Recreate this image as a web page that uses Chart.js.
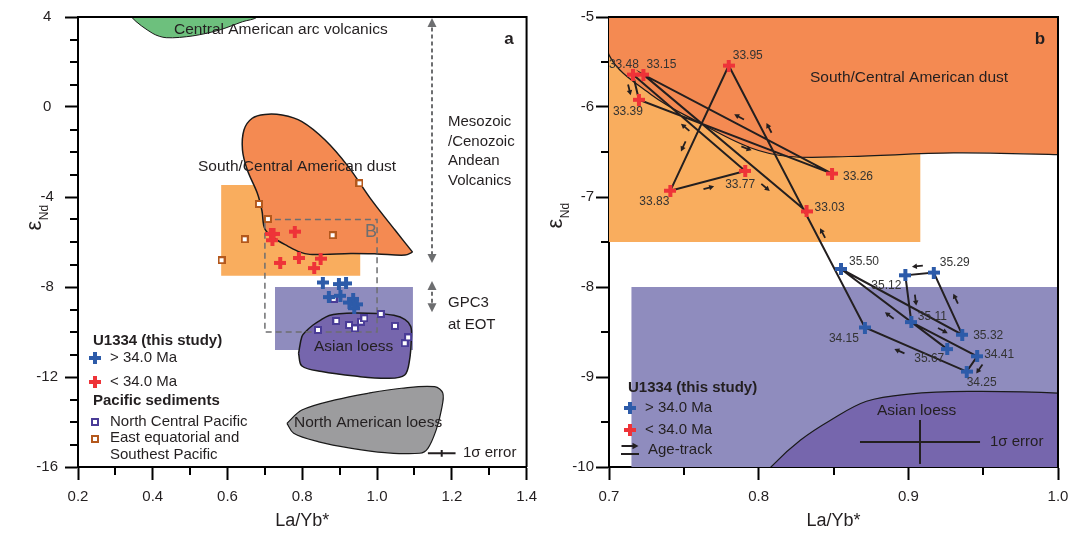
<!DOCTYPE html>
<html><head><meta charset="utf-8">
<script src="https://cdn.jsdelivr.net/npm/chart.js@4.4.1/dist/chart.umd.min.js"></script>
<style>
html,body{margin:0;padding:0;background:#fff;}
#wrap{position:relative;width:1083px;height:533px;overflow:hidden;background:#fff;}
canvas{position:absolute;top:0;}
#ca{left:0;} #cb{left:545px;}
</style></head><body>
<div id="wrap"><canvas id="ca" width="545" height="533" style="width:545px;height:533px"></canvas><canvas id="cb" width="538" height="533" style="width:538px;height:533px"></canvas></div>
<script>
const FONT = '"Liberation Sans", Arial, Helvetica, sans-serif';
const TXT = '#231f20';

// ---- U1334 (this study) ----
const blueAges  = ['35.67','35.50','35.32','35.29','35.12','35.11','34.41','34.25','34.15'];
const blueLaYb  = [0.926, 0.855, 0.936, 0.917, 0.898, 0.902, 0.946, 0.939, 0.871];
const blueEpsNd = [-8.69, -7.80, -8.53, -7.84, -7.87, -8.39, -8.77, -8.94, -8.45];
const redAges   = ['33.95','33.83','33.77','33.48','33.39','33.26','33.15','33.03'];
const redLaYb   = [0.780, 0.741, 0.791, 0.716, 0.720, 0.849, 0.723, 0.832];
const redEpsNd  = [-5.54, -6.93, -6.71, -5.64, -5.92, -6.74, -5.64, -7.16];

// ---- Pacific sediments ----
const ncpLaYb  = [0.884, 0.891, 0.842, 0.925, 0.941, 0.957, 0.966, 1.010, 1.048, 1.074, 1.083];
const ncpEpsNd = [-8.53, -9.51, -9.91, -9.69, -9.84, -9.54, -9.39, -9.20, -9.73, -10.50, -10.24];
const eesLaYb  = [0.953, 0.684, 0.708, 0.646, 0.584, 0.881];
const eesEpsNd = [-3.39, -4.31, -4.98, -5.88, -6.81, -5.70];

// ---- source fields ----
const dustX = [1.095,1.075,1.000,0.930,0.860,0.820,0.794,0.761,0.728,0.700,0.692,0.680,0.653,0.640,0.644,0.666,0.700,0.746,0.799,0.861,0.923,0.985,1.048,1.095];
const dustY = [-6.45,-6.58,-6.53,-6.51,-6.55,-6.55,-6.45,-6.18,-5.86,-5.42,-4.60,-3.84,-2.80,-1.91,-1.02,-0.50,-0.33,-0.36,-0.65,-1.47,-2.65,-4.13,-5.47,-6.45];
const loessX = [0.790,0.799,0.810,0.828,0.848,0.872,0.900,0.940,1.000,1.045,1.075,1.090,1.092,1.087,1.074,1.030,0.941,0.852,0.799,0.790];
const loessY = [-10.95,-10.20,-9.97,-9.70,-9.48,-9.27,-9.19,-9.16,-9.18,-9.26,-9.45,-9.75,-10.21,-11.24,-11.91,-12.06,-11.96,-11.76,-11.51,-10.95];
const arcX = [0.330,0.343,0.400,0.436,0.507,0.578,0.640,0.680,0.700,0.330];
const arcY = [4.60,4.00,3.27,3.08,3.16,3.42,3.79,4.00,4.60,4.60];
const naLoessX = [0.759,0.799,0.888,0.977,1.065,1.154,1.176,1.172,1.158,1.136,1.114,1.021,0.932,0.844,0.777,0.759];
const naLoessY = [-14.06,-13.47,-13.02,-12.72,-12.50,-12.43,-12.72,-13.47,-14.36,-15.17,-15.39,-15.36,-15.17,-14.88,-14.50,-14.06];
// rectangles [min,max]
const gpcRectA_x = [0.583, 0.955], gpcRectA_y = [-3.47, -7.5];
const gpcRectB_x = [0.690, 0.908], gpcRectB_y = [-3.47, -7.5];
const asiaRectA_x = [0.727, 1.096], asiaRectA_y = [-8.0, -10.8];
const asiaRectB_x = [0.715, 1.096], asiaRectB_y = [-8.0, -10.8];
const boxB_x = [0.70, 1.00], boxB_y = [-5.0, -10.0];
// annotation arrows (panel a)
const andeanX = 1.147, andeanY = [3.85, -6.75];
const gpc3X = 1.147, gpc3Y = [-7.9, -8.95];
// 1 sigma error
const errA = {x:1.173, y:-15.39, dx:0.037, dy:0.15};
const errB = {x:0.9078, y:-9.722, dx:0.0401, dy:0.244};

// label offsets (px) for panel b
const blueLabDX = [-18, 23, 26, 21, -19, 21, 22, 15, -21];
const blueLabDY = [10, -7, 1, -10, 10, -5, -2, 11, 11];
const redLabDX  = [19, -16, -5, -9, -11, 26, 18, 23];
const redLabDY  = [-10, 11, 14, -10, 12, 3, -10, -4];
// track arrows: [segment, fraction, side offset px]
const trackArrows = [[0,0.5,-8],[2,0.52,9],[3,0.55,8],[4,0.55,-7],[5,0.43,-7],[6,0.5,-9],[7,0.63,-8],[8,0.35,6],[8,0.75,7],[9,0.67,7],[10,0.49,7],[11,0.5,-6],[12,0.54,7],[13,0.57,7],[14,0.51,7],[15,0.78,8]];

// ---- helpers ----
const pts = (xs, ys) => xs.map((x,i)=>({x:x, y:ys[i]}));
const rectPts = (xr, yr) => [{x:xr[0],y:yr[0]},{x:xr[1],y:yr[0]},{x:xr[1],y:yr[1]},{x:xr[0],y:yr[1]},{x:xr[0],y:yr[0]}];
const trackPts = blueAges.map((a,i)=>({a:parseFloat(a), x:blueLaYb[i], y:blueEpsNd[i]}))
  .concat(redAges.map((a,i)=>({a:parseFloat(a), x:redLaYb[i], y:redEpsNd[i]})))
  .sort((p,q)=>q.a-p.a).map(p=>({x:p.x,y:p.y}));

function plusMarker(color){ const s=12,a=4; const c=document.createElement('canvas'); c.width=s;c.height=s; const g=c.getContext('2d'); g.fillStyle=color; g.fillRect((s-a)/2,0,a,s); g.fillRect(0,(s-a)/2,s,a); return c; }
function squareMarker(color){ const s=8; const c=document.createElement('canvas'); c.width=s;c.height=s; const g=c.getContext('2d'); g.fillStyle=color; g.fillRect(0,0,s,s); g.fillStyle='#fff'; g.fillRect(2,2,s-4,s-4); return c; }
const RED='#ee3338', BLUE='#2d5ba9';
const plusRed = plusMarker(RED), plusBlue = plusMarker(BLUE);
const sqNCP = squareMarker('#4a3c97'), sqEES = squareMarker('#b4581c');

const C = {dust:'#f48a52', gpc:'#f9ad5e', asiaRect:'#8f8cbe', loess:'#7666ad', arc:'#6dc07d', na:'#9c9c9e'};

function areaDS(data, fill, line, lw, order, tension){
  return {data, showLine:true, fill:'shape', backgroundColor:fill, borderColor:line, borderWidth:lw, pointRadius:0, pointHoverRadius:0, tension:tension, order};
}
function lineDS(data, color, width, order, dash){
  return {data, showLine:true, fill:false, borderColor:color, borderWidth:width, borderDash:dash||[], pointRadius:0, pointHoverRadius:0, tension:0, order, backgroundColor:'rgba(0,0,0,0)'};
}
function pointDS(data, img, order){
  return {data, showLine:false, fill:false, pointStyle:img, pointRadius:6, pointHoverRadius:6, order, backgroundColor:'rgba(0,0,0,0)', borderColor:'rgba(0,0,0,0)'};
}

function buildScales(o){
  const mk = (min,max,step)=>{const t=[];const n=Math.round((max-min)/step);for(let i=0;i<=n;i++)t.push({value:+(min+i*step).toFixed(6)});return t;};
  const grid = (isMaj)=>({drawOnChartArea:false, drawTicks:true, tickLength:13, tickWidth:2, tickColor: c => (c.tick && isMaj(c.tick.value)) ? '#000' : 'rgba(0,0,0,0)'});
  return {
    x:{ type:'linear', position:'bottom', min:o.xMin, max:o.xMax, z:1,
      afterBuildTicks: s=>{ s.ticks = mk(o.xMin,o.xMax,o.xStep); },
      afterFit: s=>{ s.height = o.xH; },
      ticks:{autoSkip:false, maxRotation:0, minRotation:0, padding:o.xPad, color:TXT, font:{family:FONT,size:15}, callback: v => o.xMajor(v) ? Number(v).toFixed(1) : ''},
      grid: grid(o.xMajor),
      border:{display:true,color:'#000',width:2},
      title:{display:true, text:'La/Yb*', color:TXT, font:{family:FONT,size:18}, padding:{top:0,bottom:1}}
    },
    y:{ type:'linear', position:'left', min:o.yMin, max:o.yMax, z:1,
      afterBuildTicks: s=>{ s.ticks = mk(o.yMin,o.yMax,o.yStep); },
      afterFit: s=>{ s.width = o.yW; },
      ticks:{autoSkip:false, padding:o.yPad, crossAlign:o.yCross, color:TXT, font:{family:FONT,size:15}, callback: v => o.yMajor(v) ? String(Math.round(v)) : ''},
      grid: grid(o.yMajor),
      border:{display:true,color:'#000',width:2},
      title:{display:false}
    }
  };
}

function axesPlugin(xMaj, yMaj, epsX, epsY){
  return { id:'axesExtra', afterDraw(chart){
    const ctx=chart.ctx, a=chart.chartArea, sx=chart.scales.x, sy=chart.scales.y;
    ctx.save(); ctx.strokeStyle='#000'; ctx.lineWidth=2;
    ctx.beginPath(); ctx.moveTo(a.left-1,a.top); ctx.lineTo(a.right,a.top); ctx.lineTo(a.right,a.bottom); ctx.stroke();
    sx.ticks.forEach(t=>{ if(!xMaj(t.value)){ const p=Math.round(sx.getPixelForValue(t.value)); ctx.beginPath(); ctx.moveTo(p,a.bottom); ctx.lineTo(p,a.bottom+8); ctx.stroke(); }});
    sy.ticks.forEach(t=>{ if(!yMaj(t.value)){ const p=Math.round(sy.getPixelForValue(t.value)); ctx.beginPath(); ctx.moveTo(a.left-8,p); ctx.lineTo(a.left,p); ctx.stroke(); }});
    // epsilon Nd title
    ctx.translate(epsX, epsY); ctx.rotate(-Math.PI/2); ctx.fillStyle=TXT; ctx.textBaseline='alphabetic'; ctx.textAlign='left';
    ctx.font='22px '+FONT; const w1=ctx.measureText('\u03B5').width;
    ctx.font='12px '+FONT; const w2=ctx.measureText('Nd').width;
    const x0=-(w1+w2)/2;
    ctx.font='22px '+FONT; ctx.fillText('\u03B5', x0, 7);
    ctx.font='12px '+FONT; ctx.fillText('Nd', x0+w1+0.5, 14);
    ctx.restore();
  }};
}

function drawText(ctx, items, off){
  items.forEach(it=>{ ctx.font=(it.f||'15.5px')+' '+FONT; ctx.fillStyle=it.c||TXT; ctx.textAlign=it.a||'left'; ctx.textBaseline='middle'; ctx.fillText(it.t, it.x-off, it.y); });
}
function arrowGlyph(ctx, x, y, ux, uy, len, head){
  const hx=x+ux*len/2, hy=y+uy*len/2, tx=x-ux*len/2, ty=y-uy*len/2;
  ctx.beginPath(); ctx.moveTo(tx,ty); ctx.lineTo(hx-ux*head*0.6, hy-uy*head*0.6); ctx.stroke();
  ctx.beginPath(); ctx.moveTo(hx,hy); ctx.lineTo(hx-ux*head-uy*head*0.55, hy-uy*head+ux*head*0.55); ctx.lineTo(hx-ux*head+uy*head*0.55, hy-uy*head-ux*head*0.55); ctx.closePath(); ctx.fill();
}

// ---------- Panel a ----------
const majAx = v => Math.round(v*10)%2===0, majAy = v => Math.round(v)%4===0;
const textA = [
  {t:'Central American arc volcanics', x:174, y:30},
  {t:'a', x:509, y:39, f:'bold 17px', a:'center'},
  {t:'Mesozoic', x:448, y:122, f:'15px'},
  {t:'/Cenozoic', x:448, y:142, f:'15px'},
  {t:'Andean', x:448, y:161, f:'15px'},
  {t:'Volcanics', x:448, y:181, f:'15px'},
  {t:'GPC3', x:448, y:303, f:'15px'},
  {t:'at EOT', x:448, y:325, f:'15px'},
  {t:'South/Central American dust', x:198, y:167},
  {t:'B', x:371, y:232, f:'18px', a:'center', c:'#6d6e70'},
  {t:'Asian loess', x:314, y:347},
  {t:'North American loess', x:294, y:423},
  {t:'1\u03C3 error', x:463, y:453, f:'15px'},
  {t:'U1334 (this study)', x:93, y:341, f:'bold 15px'},
  {t:'> 34.0 Ma', x:110, y:358, f:'15px'},
  {t:'< 34.0 Ma', x:110, y:382, f:'15px'},
  {t:'Pacific sediments', x:93, y:401, f:'bold 15px'},
  {t:'North Central Pacific', x:110, y:422, f:'15px'},
  {t:'East equatorial and', x:110, y:438, f:'15px'},
  {t:'Southest Pacific', x:110, y:455, f:'15px'}
];
const decorA = { id:'decorA', afterDraw(chart){
  const ctx=chart.ctx, sx=chart.scales.x, sy=chart.scales.y;
  ctx.save();
  drawText(ctx, textA, 0);
  ctx.drawImage(plusBlue, 89, 352); ctx.drawImage(plusRed, 89, 376);
  ctx.drawImage(sqNCP, 91, 418); ctx.drawImage(sqEES, 91, 435);
  // arrow heads on dashed arrows
  ctx.fillStyle='#6d6e70';
  const head=(x,y,dir)=>{ ctx.beginPath(); ctx.moveTo(x,y); ctx.lineTo(x-4.5,y+dir*9); ctx.lineTo(x+4.5,y+dir*9); ctx.closePath(); ctx.fill(); };
  const ax=sx.getPixelForValue(andeanX);
  head(ax, sy.getPixelForValue(4.0)+1, 1); head(ax, sy.getPixelForValue(-6.93), -1);
  head(ax, sy.getPixelForValue(-7.73), 1); head(ax, sy.getPixelForValue(-9.12), -1);
  ctx.restore();
}};

new Chart(document.getElementById('ca'), {
  type:'line',
  data:{datasets:[
    areaDS(rectPts(gpcRectA_x,gpcRectA_y), C.gpc, 'rgba(0,0,0,0)', 0, 30, 0),
    areaDS(rectPts(asiaRectA_x,asiaRectA_y), C.asiaRect, 'rgba(0,0,0,0)', 0, 29, 0),
    areaDS(pts(dustX,dustY), C.dust, '#1a1a1a', 1.5, 28, 0.35),
    areaDS(pts(loessX,loessY), C.loess, '#1a1a1a', 1.5, 27, 0.35),
    areaDS(pts(arcX,arcY), C.arc, '#1a1a1a', 1, 26, 0.3),
    areaDS(pts(naLoessX,naLoessY), C.na, '#1a1a1a', 1.2, 25, 0.35),
    lineDS(rectPts(boxB_x,boxB_y), '#6d6e70', 1.5, 20, [6,4]),
    lineDS([{x:andeanX,y:andeanY[0]},{x:andeanX,y:andeanY[1]}], '#6d6e70', 2, 19, [4,3]),
    lineDS([{x:gpc3X,y:gpc3Y[0]},{x:gpc3X,y:gpc3Y[1]}], '#6d6e70', 2, 19, [4,3]),
    lineDS([{x:errA.x-errA.dx,y:errA.y},{x:errA.x+errA.dx,y:errA.y}], TXT, 2, 18),
    lineDS([{x:errA.x,y:errA.y-errA.dy},{x:errA.x,y:errA.y+errA.dy}], TXT, 2, 18),
    pointDS(pts(ncpLaYb,ncpEpsNd), sqNCP, 5),
    pointDS(pts(eesLaYb,eesEpsNd), sqEES, 4),
    pointDS(pts(blueLaYb,blueEpsNd), plusBlue, 2),
    pointDS(pts(redLaYb,redEpsNd), plusRed, 1)
  ]},
  options:{ responsive:false, animation:false, events:[], devicePixelRatio:1,
    layout:{padding:{left:0,top:17,right:16,bottom:0}},
    plugins:{legend:{display:false}, tooltip:{enabled:false}},
    scales: buildScales({xMin:0.2,xMax:1.4,xStep:0.1,xMajor:majAx,xH:66,xPad:8, yMin:-16,yMax:4,yStep:1,yMajor:majAy,yW:78,yPad:7,yCross:'center'})
  },
  plugins:[axesPlugin(majAx, majAy, 34, 218), decorA]
});

// ---------- Panel b ----------
const OFF = 545;
const majBx = v => Math.round(v*100)%10===0, majBy = v => Math.abs(v-Math.round(v))<1e-6;
const textB = [
  {t:'b', x:1040, y:39, f:'bold 17px', a:'center'},
  {t:'South/Central American dust', x:810, y:78},
  {t:'Asian loess', x:877, y:411},
  {t:'1\u03C3 error', x:990, y:442, f:'15px'},
  {t:'U1334 (this study)', x:628, y:388, f:'bold 15px'},
  {t:'> 34.0 Ma', x:645, y:408, f:'15px'},
  {t:'< 34.0 Ma', x:645, y:430, f:'15px'},
  {t:'Age-track', x:648, y:450, f:'15px'}
];
const decorB = { id:'decorB', afterDraw(chart){
  const ctx=chart.ctx, sx=chart.scales.x, sy=chart.scales.y;
  ctx.save();
  drawText(ctx, textB, OFF);
  ctx.drawImage(plusBlue, 630-6-OFF, 402); ctx.drawImage(plusRed, 630-6-OFF, 424);
  ctx.strokeStyle=TXT; ctx.fillStyle=TXT; ctx.lineWidth=2;
  arrowGlyph(ctx, 630-OFF, 446, 1, 0, 17, 6);
  ctx.beginPath(); ctx.moveTo(621-OFF,454); ctx.lineTo(639-OFF,454); ctx.stroke();
  // point labels
  ctx.font='12px '+FONT; ctx.fillStyle='#333'; ctx.textAlign='center'; ctx.textBaseline='middle';
  blueAges.forEach((a,i)=>{ ctx.fillText(a, sx.getPixelForValue(blueLaYb[i])+blueLabDX[i], sy.getPixelForValue(blueEpsNd[i])+blueLabDY[i]); });
  redAges.forEach((a,i)=>{ ctx.fillText(a, sx.getPixelForValue(redLaYb[i])+redLabDX[i], sy.getPixelForValue(redEpsNd[i])+redLabDY[i]); });
  // track arrows
  ctx.fillStyle=TXT; ctx.strokeStyle=TXT; ctx.lineWidth=1.8;
  const P = trackPts.map(p=>({x:sx.getPixelForValue(p.x), y:sy.getPixelForValue(p.y)}));
  trackArrows.forEach(([s,t,o])=>{
    const A=P[s], B=P[s+1]; const dx=B.x-A.x, dy=B.y-A.y, L=Math.hypot(dx,dy); const ux=dx/L, uy=dy/L;
    const nx=-uy, ny=ux;
    arrowGlyph(ctx, A.x+dx*t+nx*o, A.y+dy*t+ny*o, ux, uy, 11, 5);
  });
  ctx.restore();
}};

new Chart(document.getElementById('cb'), {
  type:'line',
  data:{datasets:[
    areaDS(rectPts(gpcRectB_x,gpcRectB_y), C.gpc, 'rgba(0,0,0,0)', 0, 30, 0),
    areaDS(rectPts(asiaRectB_x,asiaRectB_y), C.asiaRect, 'rgba(0,0,0,0)', 0, 29, 0),
    areaDS(pts(dustX,dustY), C.dust, '#1a1a1a', 1.2, 28, 0.35),
    areaDS(pts(loessX,loessY), C.loess, '#1a1a1a', 1.2, 27, 0.35),
    lineDS([{x:errB.x-errB.dx,y:errB.y},{x:errB.x+errB.dx,y:errB.y}], TXT, 2, 18),
    lineDS([{x:errB.x,y:errB.y-errB.dy},{x:errB.x,y:errB.y+errB.dy}], TXT, 2, 18),
    lineDS(trackPts, TXT, 2, 10),
    pointDS(pts(blueLaYb,blueEpsNd), plusBlue, 2),
    pointDS(pts(redLaYb,redEpsNd), plusRed, 1)
  ]},
  options:{ responsive:false, animation:false, events:[], devicePixelRatio:1,
    layout:{padding:{left:0,top:17,right:25,bottom:0}},
    plugins:{legend:{display:false}, tooltip:{enabled:false}},
    scales: buildScales({xMin:0.7,xMax:1.0,xStep:0.05,xMajor:majBx,xH:66,xPad:8, yMin:-10,yMax:-5,yStep:0.5,yMajor:majBy,yW:64,yPad:2,yCross:'near'})
  },
  plugins:[axesPlugin(majBx, majBy, 10, 216), decorB]
});
</script>
</body></html>
